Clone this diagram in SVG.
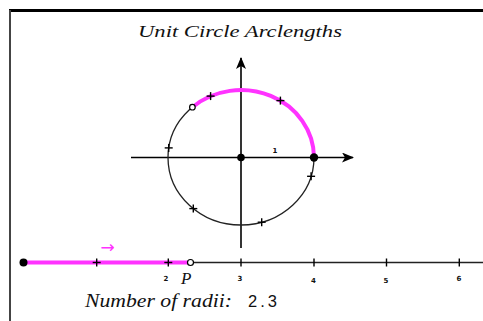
<svg xmlns="http://www.w3.org/2000/svg" width="483" height="321" viewBox="0 0 483 321">
  <style>
    .ax{stroke:#000;stroke-width:1.6;fill:none}
    .thin{stroke:#222;stroke-width:1.3;fill:none}
    .mag{stroke:#ff33ff;stroke-width:4;fill:none}
    .tick{stroke:#000;stroke-width:1.4}
    .ital{font-family:"Liberation Serif","DejaVu Serif",serif;font-style:italic;fill:#111}
    .num{font-family:"DejaVu Sans","Liberation Sans",sans-serif;font-size:7px;font-weight:bold;fill:#111}
  </style>
  <defs>
    <marker id="ah" viewBox="0 0 12 10" refX="11" refY="5" markerWidth="12" markerHeight="10" markerUnits="userSpaceOnUse" orient="auto">
      <path d="M0,0 L12,5 L0,10 L3,5 Z" fill="#000"/>
    </marker>
  </defs>
  <rect width="483" height="321" fill="#fff"/>
  <g id="frame">
    <line x1="9" y1="10.5" x2="483" y2="10.5" stroke="#000" stroke-width="3"/>
    <line x1="10" y1="10" x2="10" y2="321" stroke="#444" stroke-width="2"/>
  </g>
  <g id="title">
    <text class="ital" x="138" y="37" font-size="17" textLength="204" lengthAdjust="spacingAndGlyphs">Unit Circle Arclengths</text>
  </g>
  <g id="connectors">
    <line class="ax" x1="241" y1="248" x2="241" y2="58" marker-end="url(#ah)"/>
    <line class="ax" x1="131" y1="157.5" x2="353" y2="157.5" marker-end="url(#ah)"/>
  </g>
  <g id="unit-circle">
    <ellipse class="thin" cx="241" cy="157.5" rx="73" ry="67.5"/>
    <path class="mag" d="M314,157.5 A73,67.5 0 0 0 192.4,107.2"/>
    <g class="tick">
      <line x1="276.4" y1="100.6" x2="284.4" y2="100.6"/><line x1="280.4" y1="96.6" x2="280.4" y2="104.6"/>
      <line x1="206.6" y1="96.1" x2="214.6" y2="96.1"/><line x1="210.6" y1="92.1" x2="210.6" y2="100.1"/>
      <line x1="164.7" y1="147.9" x2="172.7" y2="147.9"/><line x1="168.7" y1="143.9" x2="168.7" y2="151.9"/>
      <line x1="189.3" y1="208.6" x2="197.3" y2="208.6"/><line x1="193.3" y1="204.6" x2="193.3" y2="212.6"/>
      <line x1="257.7" y1="222.2" x2="265.7" y2="222.2"/><line x1="261.7" y1="218.2" x2="261.7" y2="226.2"/>
      <line x1="307.1" y1="176.3" x2="315.1" y2="176.3"/><line x1="311.1" y1="172.3" x2="311.1" y2="180.3"/>
    </g>
    <circle cx="241" cy="157.5" r="3.8" fill="#000"/>
    <circle cx="314" cy="157.5" r="4.2" fill="#000"/>
    <circle cx="192.4" cy="107.2" r="2.8" fill="#fff" stroke="#000" stroke-width="1.2"/>
    <text class="num" x="275" y="153" text-anchor="middle">1</text>
  </g>
  <g id="number-line">
    <line class="thin" x1="190.5" y1="262.5" x2="483" y2="262.5" stroke="#000"/>
    <line class="mag" x1="23.5" y1="262.5" x2="190.5" y2="262.5"/>
    <g class="tick">
      <line x1="96.7" y1="258.5" x2="96.7" y2="266.5"/><line x1="92.7" y1="262.5" x2="100.7" y2="262.5"/>
      <line x1="168.3" y1="258.5" x2="168.3" y2="266.5"/><line x1="164.3" y1="262.5" x2="172.3" y2="262.5"/>
      <line x1="241" y1="258.5" x2="241" y2="266.5"/>
      <line x1="314" y1="258.5" x2="314" y2="266.5"/>
      <line x1="386.5" y1="258.5" x2="386.5" y2="266.5"/>
      <line x1="459.3" y1="258.5" x2="459.3" y2="266.5"/>
    </g>
    <circle cx="23.5" cy="262.5" r="4" fill="#000"/>
    <circle cx="190.5" cy="262.5" r="3" fill="#fff" stroke="#000" stroke-width="1.2"/>
    <text class="num" x="166" y="281" text-anchor="middle">2</text>
    <text class="num" x="240" y="281" text-anchor="middle">3</text>
    <text class="num" x="313.5" y="283" text-anchor="middle">4</text>
    <text class="num" x="386" y="283" text-anchor="middle">5</text>
    <text class="num" x="459" y="281" text-anchor="middle">6</text>
    <text class="ital" x="181" y="284" font-size="17">P</text>
    <text x="107.5" y="253" font-family="DejaVu Sans, sans-serif" font-size="17" fill="#ff33ff" text-anchor="middle">→</text>
  </g>
  <g id="readout">
    <text class="ital" x="85" y="306.5" font-size="19" textLength="147" lengthAdjust="spacingAndGlyphs">Number of radii:</text>
    <text x="248" y="306.5" font-family="Liberation Sans, Arial, sans-serif" font-size="16.5" fill="#111" textLength="29" lengthAdjust="spacing">2.3</text>
  </g>
</svg>
